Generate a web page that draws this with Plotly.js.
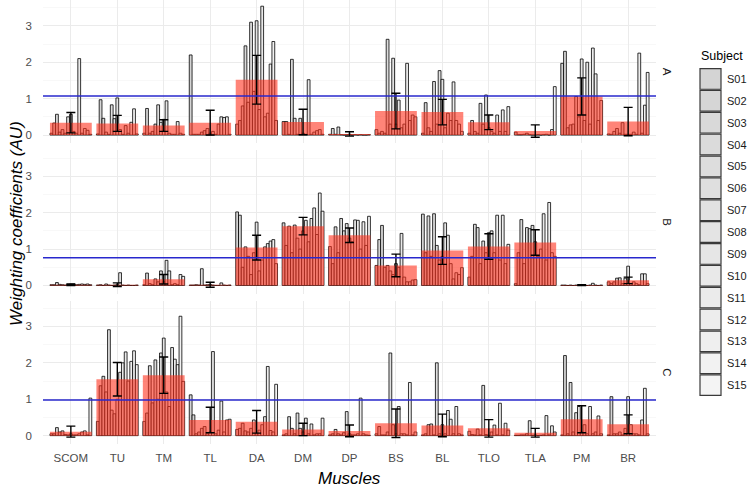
<!DOCTYPE html>
<html>
<head>
<meta charset="utf-8">
<script src="https://cdn.plot.ly/plotly-3.0.1.min.js"></script>
<style>html,body{margin:0;padding:0;background:#fff;}#chart{width:749px;height:492px;}</style>
</head>
<body>
<div id="chart"></div>
<script>
// ---------- DATA ----------
const muscles = ['SCOM','TU','TM','TL','DA','DM','DP','BS','BL','TLO','TLA','PM','BR'];
const subjects = ['S01','S02','S03','S04','S05','S06','S07','S08','S09','S10','S11','S12','S13','S14','S15'];
const facets = ['A','B','C'];

// per-muscle rows of 15 subject values (S01..S15), facet A
const valuesA = [
  [0.05,0.33,0.57,0.08,0.15,0.05,0.50,0.57,0.10,0.05,2.10,0.05,0.18,0.13,0.02], // SCOM
  [0.03,0.97,0.46,0.08,0.02,0.83,0.45,1.02,0.15,0.02,0.26,0.05,0.35,0.72,0.03], // TU
  [0.05,0.73,0.05,0.10,0.30,0.83,0.35,0.43,0.94,0.05,0.02,0.02,0.37,0.05,0.02], // TM
  [2.20,0.02,0.02,0.02,0.08,0.12,0.18,0.05,0.10,0.02,0.30,0.50,0.48,0.50,0.02], // TL
  [0.30,0.40,0.80,2.45,0.90,3.10,1.20,3.14,0.70,3.54,0.50,0.60,1.95,2.57,0.40], // DA
  [0.37,0.37,0.02,2.08,0.46,0.02,0.46,0.05,0.02,1.52,0.02,0.08,0.12,0.15,0.02], // DM
  [0.02,0.18,0.02,0.22,0.01,0.00,0.01,0.02,0.00,0.01,0.00,0.01,0.00,0.00,0.01], // DP
  [0.15,0.05,0.10,0.05,2.63,0.30,2.11,0.30,0.96,0.20,0.30,1.97,0.40,0.55,0.50], // BS
  [0.05,0.89,0.20,0.10,1.47,0.30,1.77,1.53,0.20,0.60,0.40,1.46,0.40,0.30,0.10], // BL
  [0.05,0.40,0.10,0.05,0.87,0.30,1.10,0.20,0.10,0.05,0.55,0.10,0.69,0.10,0.78], // TLO
  [0.08,0.01,0.01,0.02,0.05,0.01,0.00,0.00,0.01,0.00,0.01,0.02,0.00,0.15,1.33], // TLA
  [1.97,2.30,0.20,0.28,0.30,1.06,0.50,2.09,0.40,2.00,0.30,2.39,1.68,0.40,0.95], // PM
  [0.03,0.02,0.10,0.18,0.05,0.34,0.02,0.02,0.02,0.08,0.02,2.25,0.05,0.82,1.72]  // BR
];
// facet B
const valuesB = [
  [0.02,0.02,0.08,0.03,0.02,0.01,0.03,0.04,0.04,0.02,0.03,0.04,0.03,0.04,0.02], // SCOM
  [0.01,0.02,0.00,0.04,0.01,0.00,0.01,0.02,0.35,0.01,0.00,0.01,0.00,0.00,0.01], // TU
  [0.02,0.34,0.05,0.02,0.18,0.10,0.40,0.10,0.69,0.40,0.02,0.05,0.02,0.30,0.25], // TM
  [0.01,0.01,0.02,0.01,0.46,0.01,0.02,0.03,0.01,0.00,0.00,0.07,0.01,0.00,0.01], // TL
  [2.02,1.93,0.50,1.06,0.80,0.30,0.90,1.74,0.40,0.70,1.06,1.15,1.22,1.26,0.60], // DA
  [1.72,1.10,1.63,0.90,1.66,1.30,1.00,1.50,1.79,1.20,1.84,2.13,1.40,2.54,2.04], // DM
  [1.07,0.60,1.61,0.90,1.84,1.50,1.70,1.30,1.20,1.80,1.79,1.00,1.75,1.10,1.90], // DP
  [0.55,1.26,1.65,0.50,0.55,0.40,0.30,0.60,0.50,1.43,0.23,0.10,0.10,0.15,0.16], // BS
  [1.96,0.90,1.91,0.80,1.97,1.10,0.70,0.80,1.72,1.38,0.60,0.18,0.35,0.30,0.49], // BL
  [0.23,0.80,1.68,1.59,0.60,1.22,0.90,1.45,1.50,0.90,1.93,0.70,1.93,0.60,1.13], // TLO
  [0.05,0.90,1.81,0.60,1.59,1.56,1.65,1.20,0.80,1.00,1.97,0.70,2.28,0.90,0.80], // TLA
  [0.01,0.01,0.00,0.01,0.00,0.01,0.01,0.00,0.01,0.00,0.01,0.06,0.01,0.00,0.01], // PM
  [0.10,0.05,0.10,0.20,0.21,0.05,0.20,0.53,0.05,0.10,0.05,0.02,0.32,0.32,0.05]  // BR
];
// facet C
const valuesC = [
  [0.05,0.05,0.22,0.10,0.13,0.03,0.02,0.05,0.02,0.02,0.05,0.10,0.13,0.02,1.03], // SCOM
  [0.39,1.37,1.63,1.20,2.91,0.70,0.60,1.00,1.74,2.00,2.30,1.50,2.04,2.33,1.95], // TU
  [0.39,0.62,1.92,0.90,2.08,1.00,2.27,2.68,1.20,0.80,2.42,2.10,1.95,3.28,1.49], // TM
  [1.12,0.57,0.05,0.10,0.20,0.25,0.05,0.10,2.31,0.05,0.15,0.95,0.10,0.43,0.45], // TL
  [0.17,0.20,0.34,0.13,0.10,0.20,0.43,0.05,0.15,0.30,0.52,1.90,0.14,0.10,1.41], // DA
  [0.02,0.05,0.52,0.20,0.05,0.62,0.20,0.10,0.48,0.05,0.32,0.02,0.05,0.05,0.48], // DM
  [0.02,0.05,0.17,0.05,0.02,0.08,0.66,0.05,0.02,0.02,0.05,1.03,0.05,0.02,0.01], // DP
  [0.05,0.25,0.02,0.02,0.10,2.27,0.30,0.05,0.80,0.05,0.05,0.02,1.46,0.02,0.10], // BS
  [0.02,0.05,0.30,0.32,0.02,2.00,0.05,0.30,0.05,0.69,0.45,0.05,0.80,0.05,0.02], // BL
  [0.12,0.03,0.02,0.18,0.02,1.38,0.03,0.01,0.10,0.29,0.02,0.89,0.02,0.34,0.15], // TLO
  [0.01,0.01,0.02,0.02,0.05,0.41,0.01,0.02,0.00,0.01,0.02,0.55,0.02,0.27,0.10], // TLA
  [0.02,2.20,0.05,1.46,0.10,0.63,0.80,0.10,0.30,0.05,0.80,0.05,0.10,0.54,0.05], // PM
  [0.02,1.07,0.05,0.05,0.10,0.02,0.20,1.07,0.30,0.05,0.05,0.02,0.43,1.30,0.05]  // BR
];

// group means (red bars) and error half-widths, per facet
const meanA = [0.34,0.32,0.26,0.34,1.52,0.36,0.03,0.66,0.63,0.35,0.11,1.06,0.37];
const meanB = [0.02,0.02,0.17,0.02,1.04,1.63,1.38,0.55,0.96,1.07,1.18,0.01,0.14];
const meanC = [0.11,1.55,1.66,0.43,0.38,0.17,0.13,0.34,0.28,0.20,0.08,0.45,0.31];
const errA  = [0.28,0.22,0.16,0.34,0.67,0.35,0.06,0.49,0.35,0.20,0.17,0.51,0.39];
const errB  = [0.02,0.05,0.13,0.07,0.34,0.24,0.20,0.31,0.38,0.35,0.35,0.01,0.09];
const errC  = [0.15,0.46,0.50,0.35,0.31,0.17,0.16,0.39,0.31,0.24,0.12,0.37,0.26];

// horizontal reference line per facet
const refLine = [1.07, 0.76, 0.98];

// ---------- BUILD ----------
const allValues = [valuesA, valuesB, valuesC];
const allMeans = [meanA, meanB, meanC];
const allErrs = [errA, errB, errC];

const FONT = 'Liberation Sans, Arial, sans-serif';
const nS = subjects.length;
const groupW = 0.9;
const barW = groupW / nS;
function subjColor(i){ const g = Math.round(212 + i * (32 / (nS - 1))); return `rgb(${g},${g},${g})`; }

const traces = [];
facets.forEach((f, fi) => {
  const xa = fi === 0 ? 'x' : 'x' + (fi + 1);
  const ya = fi === 0 ? 'y' : 'y' + (fi + 1);
  const vals = allValues[fi];
  subjects.forEach((s, si) => {
    traces.push({
      type: 'bar', xaxis: xa, yaxis: ya, name: s,
      x: muscles, y: muscles.map((m, mi) => vals[mi][si]),
      width: barW, offset: -groupW / 2 + si * barW,
      marker: { color: subjColor(si), line: { color: '#000', width: 0.8 } },
      hoverinfo: 'x+y+name', showlegend: false
    });
  });
  traces.push({
    type: 'bar', xaxis: xa, yaxis: ya, name: 'mean',
    x: muscles, y: allMeans[fi], width: groupW,
    marker: { color: 'rgba(255,50,30,0.6)', line: { width: 0 } },
    hoverinfo: 'skip', showlegend: false
  });
  traces.push({
    type: 'scatter', mode: 'markers', xaxis: xa, yaxis: ya,
    x: muscles, y: allMeans[fi],
    marker: { size: 1, color: 'rgba(0,0,0,0)' },
    error_y: { type: 'data', array: allErrs[fi], visible: true, color: '#000', thickness: 1.4, width: 4.5 },
    hoverinfo: 'skip', showlegend: false
  });
});

// layout geometry
const L = 43, R = 93, T = 0, B = 48, W = 749, H = 492;
const PW = W - L - R, PH = H - T - B;
const domains = [[0.677, 1.0], [0.3382, 0.6612], [0.0, 0.323]];

const layout = {
  width: W, height: H,
  margin: { l: L, r: R, t: T, b: B, pad: 0 },
  paper_bgcolor: '#fff', plot_bgcolor: '#fff',
  barmode: 'overlay', showlegend: false,
  font: { family: FONT, color: '#4d4d4d', size: 11 },
  shapes: [], annotations: []
};

facets.forEach((f, fi) => {
  const xk = fi === 0 ? 'xaxis' : 'xaxis' + (fi + 1);
  const yk = fi === 0 ? 'yaxis' : 'yaxis' + (fi + 1);
  const ya = fi === 0 ? 'y' : 'y' + (fi + 1);
  const xa = fi === 0 ? 'x' : 'x' + (fi + 1);
  layout[xk] = {
    type: 'category', categoryorder: 'array', categoryarray: muscles,
    range: [-0.6, muscles.length - 0.4], anchor: ya,
    showgrid: true, gridcolor: '#ebebeb', gridwidth: 1,
    zeroline: false, showline: false, ticks: '',
    showticklabels: fi === 2, ticklabelstandoff: 5,
    tickfont: { family: FONT, size: 11.5, color: '#4d4d4d' },
    fixedrange: true
  };
  if (fi > 0) layout[xk].matches = 'x';
  layout[yk] = {
    domain: domains[fi], anchor: xa,
    range: [-0.23, 3.71], tickvals: [0, 1, 2, 3], ticktext: ['0','1','2','3'],
    showgrid: true, gridcolor: '#ebebeb', gridwidth: 1,
    minor: { tickvals: [0.5, 1.5, 2.5, 3.5], showgrid: true, gridcolor: '#f3f3f3', gridwidth: 0.6, ticks: '' },
    zeroline: false, showline: false, ticks: '', ticklabelstandoff: 10,
    tickfont: { family: FONT, size: 11.5, color: '#4d4d4d' },
    fixedrange: true
  };
  layout.shapes.push({
    type: 'line', xref: xa + ' domain', yref: ya,
    x0: 0, x1: 1, y0: refLine[fi], y1: refLine[fi],
    line: { color: 'rgb(40,40,205)', width: 1.5 }, layer: 'above'
  });
  layout.annotations.push({
    text: f, xref: 'paper', yref: ya + ' domain', x: 1, y: 0.5,
    xanchor: 'left', yanchor: 'middle', xshift: 3, showarrow: false,
    textangle: 90, font: { family: FONT, size: 11.5, color: '#1a1a1a' }
  });
});

// axis titles
layout.annotations.push({
  text: '<i>Weighting coefficients (AU)</i>', xref: 'paper', yref: 'paper',
  x: (17 - L) / PW, y: 1 - (224 - T) / PH, xanchor: 'center', yanchor: 'middle',
  textangle: -90, showarrow: false,
  font: { family: FONT, size: 17, color: '#000' }
});
layout.annotations.push({
  text: '<i>Muscles</i>', xref: 'paper', yref: 'paper',
  x: 0.5, y: 1 - (478 - T) / PH, xanchor: 'center', yanchor: 'middle',
  showarrow: false, font: { family: FONT, size: 17, color: '#000' }
});

// legend (drawn manually to match large key boxes)
const px2x = p => (p - L) / PW;
const py2y = p => 1 - (p - T) / PH;
layout.annotations.push({
  text: 'Subject', xref: 'paper', yref: 'paper', x: px2x(699), y: py2y(56),
  xanchor: 'left', yanchor: 'middle', showarrow: false,
  font: { family: FONT, size: 12.5, color: '#000' }
});
const keyTop = 68, keyH = 21.87, keyL = 700, keyR = 721;
subjects.forEach((s, si) => {
  const t = keyTop + si * keyH;
  layout.shapes.push({
    type: 'rect', xref: 'paper', yref: 'paper',
    x0: px2x(keyL), x1: px2x(keyR), y0: py2y(t + keyH - 0.6), y1: py2y(t + 0.6),
    fillcolor: subjColor(si), line: { color: '#3a3a3a', width: 1.2 }
  });
  layout.annotations.push({
    text: s, xref: 'paper', yref: 'paper', x: px2x(725), y: py2y(t + keyH / 2),
    xanchor: 'left', yanchor: 'middle', showarrow: false,
    font: { family: FONT, size: 11, color: '#1a1a1a' }
  });
});

Plotly.newPlot('chart', traces, layout, { displayModeBar: false, staticPlot: true });
</script>
</body>
</html>
